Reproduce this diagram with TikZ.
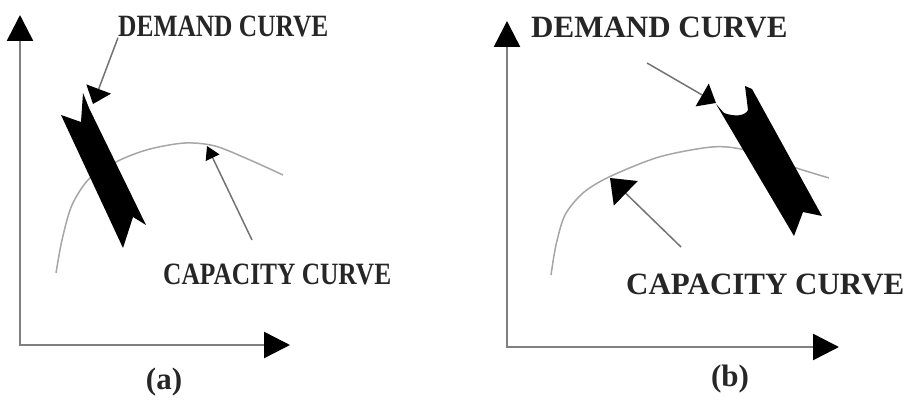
\documentclass[tikz,border=0pt]{standalone}
\usepackage{fontspec}
\setmainfont{Liberation Serif}
\usetikzlibrary{arrows.meta,positioning}

\begin{document}
\begin{tikzpicture}
[x=1pt,y=-1pt,
axis/.style = {draw=black!50, line width=2.5pt, {Triangle[length=26pt,width=26pt,color=black]}-{Triangle[length=26pt,width=26pt,color=black]}},
curve/.style = {draw=black!35, line width=1.5pt},
band/.style = {fill=black},
ptr/.style 2 args = {draw=black!55, line width=1.5pt, -{Triangle[length=#1,width=#2,color=black]}},
lbl/.style = {inner sep=0pt, text=black!85, font=\fontsize{31}{31}\selectfont\bfseries},]
\useasboundingbox (0,0) rectangle (909,403);
% (a)
\coordinate (yA) at (20,15);
\coordinate (oA) at (20,345);
\coordinate (xA) at (290,345);
\draw[axis] (yA) -- (oA) -- (xA);
\draw[curve] plot[smooth] coordinates {(56,273) (62,240) (72,205) (90,178) (120,160) (150,149) (185,143) (215,146) (250,160) (283,175)};
\fill[band] (61,115) -- (81,122) -- (83,93) -- (89,108) -- (146,225) -- (133,217) -- (123,248) -- cycle;
\node (demA) [lbl, anchor=base west] at (118,37) {\scalebox{0.82}[1]{DEMAND CURVE}};
\node (capA) [lbl, anchor=base west] at (163,284) {\scalebox{0.82}[1]{CAPACITY CURVE}};
\node (labA) [lbl, anchor=base] at (164,389) {(a)};
\coordinate (dA) at (93,104);
\coordinate (cA0) at (252,240);
\coordinate (cA) at (207,146);
\draw[ptr={16pt}{26pt}] (demA.south west) -- (dA);
\draw[ptr={13pt}{15pt}] (cA0) -- (cA);
% (b)
\coordinate (yB) at (507,21);
\coordinate (oB) at (507,347);
\coordinate (xB) at (839,347);
\draw[axis] (yB) -- (oB) -- (xB);
\draw[curve] plot[smooth] coordinates {(551,275) (556,245) (565,215) (583,193) (609,177) (659,157) (712,147) (745,150) (790,166) (829,178)};
\fill[band] (716,104) -- (724,113) .. controls (735,117) and (745,116) .. (748,110) -- (745,86) -- (752,89) -- (822,216) -- (803,212) -- (794,236) -- cycle;
\node (demB) [lbl, anchor=base west] at (531,38) {DEMAND CURVE};
\node (capB) [lbl, anchor=base west] at (626,294) {CAPACITY CURVE};
\node (labB) [lbl, anchor=base] at (730,386) {(b)};
\coordinate (dB0) at (647,63);
\coordinate (dB) at (716,103);
\coordinate (cB0) at (681,247);
\coordinate (cB) at (610,178);
\draw[ptr={16pt}{26pt}] (dB0) -- (dB);
\draw[ptr={22pt}{34pt}] (cB0) -- (cB);
\end{tikzpicture}
\end{document}
